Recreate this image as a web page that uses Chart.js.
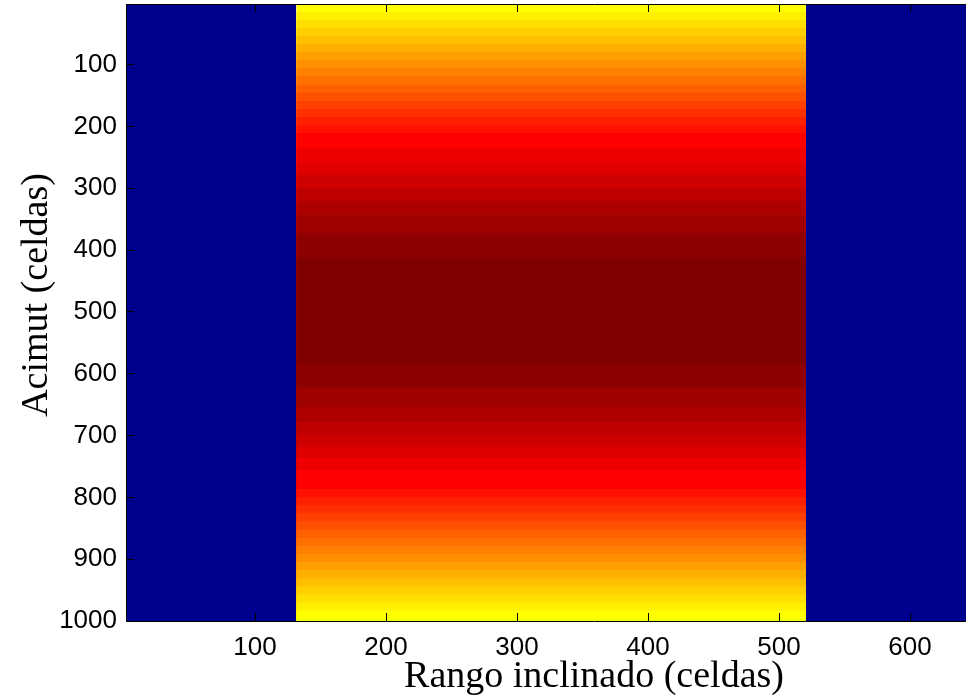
<!DOCTYPE html>
<html>
<head>
<meta charset="utf-8">
<script src="https://cdn.jsdelivr.net/npm/chart.js@4.4.1/dist/chart.umd.min.js"></script>
<style>
  html, body { margin: 0; padding: 0; background: #fff; overflow: hidden; }
  #wrap { width: 966px; height: 700px; overflow: hidden; }
</style>
</head>
<body>
<div id="wrap"><canvas id="imagenSAR" width="1100" height="700"></canvas></div>
<script>
// Limites de los ejes (celdas)
const X_MIN = 1.5;
const X_MAX = 716;
const Y_MIN = 2;
const Y_MAX = 1000;

const X_TICKS = [100, 200, 300, 400, 500, 600, 700];
const Y_TICKS = [100, 200, 300, 400, 500, 600, 700, 800, 900, 1000];

// Zonas sin señal (nivel 1 del mapa jet)
const AZUL_IZQ = [1.5, 131.5];
const AZUL_DER = [520.5, 716];
const NIVEL_AZUL = 1;

// Franja central: columnas y franjas de acimut
const FRANJA_X = [131.5, 520.5];
const FRANJA_INICIO = [
  0, 14.6, 27.7, 40.8, 53.9, 67, 80.1, 93.2, 106.3, 119.4, 132.5, 145.6, 158.7,
  171.8, 184.9, 198, 210.8, 235, 259.3, 278.7, 299.7, 320.8, 343.4, 372.5, 411.3,
  586, 623.2, 653.9, 678.2, 699.2, 718.6, 736.4, 755.8, 786.6, 799.7, 812.8,
  825.9, 839, 852.1, 865.2, 878.3, 891.4, 904.5, 917.6, 930.7, 943.8, 956.9,
  970, 983.1, 996.2
];
const FRANJA_NIVEL = [
  40, 41, 42, 43, 44, 45, 46, 47, 48, 49, 50, 51, 52,
  53, 54, 55, 56, 57, 58, 59, 60, 61, 62, 63, 64,
  63, 62, 61, 60, 59, 58, 57, 56, 55, 54, 53,
  52, 51, 50, 49, 48, 47, 46, 45, 44, 43, 42,
  41, 40, 39
];

// mapa de colores jet de 64 niveles
function jet(i) {
  const r = i < 25 ? 0 : i <= 40 ? (i - 24) / 16 : i <= 56 ? 1 : (72 - i) / 16;
  const g = i <= 8 ? 0 : i <= 24 ? (i - 8) / 16 : i <= 40 ? 1 : i <= 55 ? (56 - i) / 16 : 0;
  const b = i <= 8 ? (i + 8) / 16 : i <= 23 ? 1 : i <= 39 ? (40 - i) / 16 : 0;
  return `rgb(${Math.round(r * 255)}, ${Math.round(g * 255)}, ${Math.round(b * 255)})`;
}

function bloque(x0, x1, yTop, nivel) {
  return {
    data: [{ x: x0, y: yTop }, { x: x1, y: yTop }],
    fill: { value: Y_MAX },
    backgroundColor: jet(nivel),
    borderColor: 'transparent',
    borderWidth: 0,
    pointRadius: 0
  };
}

const datasets = [];
// las franjas de abajo se pintan encima (indice 0 = ultimo en dibujarse)
for (let i = FRANJA_INICIO.length - 1; i >= 0; i--) {
  datasets.push(bloque(FRANJA_X[0], FRANJA_X[1], FRANJA_INICIO[i], FRANJA_NIVEL[i]));
}
datasets.push(bloque(AZUL_IZQ[0], AZUL_IZQ[1], Y_MIN, NIVEL_AZUL));
datasets.push(bloque(AZUL_DER[0], AZUL_DER[1], Y_MIN, NIVEL_AZUL));

const tickFont = { family: '"Liberation Sans", Arial, sans-serif', size: 26 };
const serif = '"Liberation Serif", "Times New Roman", serif';

const gridOpts = {
  display: true,
  drawOnChartArea: false,
  drawTicks: true,
  tickLength: -8,
  color: '#000',
  lineWidth: 1,
  z: 1
};
const borderOpts = { display: true, color: '#000', width: 1, z: 1 };

// tamaño fijo de cada eje, sin margen extra por las etiquetas
function fijar(size, horizontal) {
  return s => {
    if (horizontal) s.height = size; else s.width = size;
    s.paddingTop = 0;
    s.paddingBottom = 0;
    s.paddingLeft = 0;
    s.paddingRight = 0;
  };
}

// titulo del eje vertical
const tituloY = {
  id: 'tituloY',
  afterDraw(chart) {
    const ctx = chart.ctx;
    ctx.save();
    ctx.translate(47, 295);
    ctx.rotate(-Math.PI / 2);
    ctx.font = `38px ${serif}`;
    ctx.fillStyle = '#000';
    ctx.textAlign = 'center';
    ctx.textBaseline = 'alphabetic';
    ctx.fillText('Acimut (celdas)', 0, 0);
    ctx.restore();
  }
};

new Chart(document.getElementById('imagenSAR'), {
  type: 'line',
  data: { datasets },
  options: {
    responsive: false,
    animation: false,
    devicePixelRatio: 1,
    layout: { padding: { left: 0, top: 0, right: 38, bottom: 0 } },
    plugins: { legend: { display: false }, tooltip: { enabled: false } },
    scales: {
      x: {
        type: 'linear',
        position: 'bottom',
        min: X_MIN,
        max: X_MAX,
        afterBuildTicks: s => { s.ticks = X_TICKS.map(v => ({ value: v })); },
        afterFit: fijar(79, true),
        ticks: { font: tickFont, color: '#000', padding: 19, maxRotation: 0, autoSkip: false, callback: v => String(v) },
        grid: gridOpts,
        border: borderOpts,
        title: {
          display: true,
          text: 'Rango inclinado (celdas)',
          font: { family: serif, size: 38 },
          color: '#000',
          padding: { top: 0, bottom: 0 }
        }
      },
      xTop: {
        type: 'linear',
        position: 'top',
        min: X_MIN,
        max: X_MAX,
        afterBuildTicks: s => { s.ticks = X_TICKS.map(v => ({ value: v })); },
        afterFit: fijar(4, true),
        ticks: { display: false },
        grid: gridOpts,
        border: borderOpts
      },
      y: {
        type: 'linear',
        reverse: true,
        min: Y_MIN,
        max: Y_MAX,
        afterBuildTicks: s => { s.ticks = Y_TICKS.map(v => ({ value: v })); },
        afterFit: fijar(126, false),
        ticks: { font: tickFont, color: '#000', padding: 17, autoSkip: false, callback: v => String(v) },
        grid: gridOpts,
        border: borderOpts
      }
    }
  },
  plugins: [tituloY]
});
</script>
</body>
</html>
